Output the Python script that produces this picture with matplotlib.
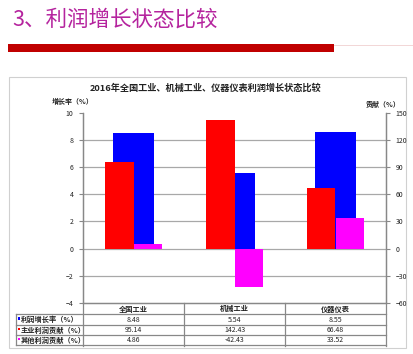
import matplotlib
matplotlib.use("Agg")
import matplotlib.pyplot as plt
from matplotlib.patches import Rectangle

plt.rcParams['font.family'] = ['Noto Sans CJK SC', 'DejaVu Sans']

categories = ['全国工业', '机械工业', '仪器仪表']
growth = [8.48, 5.54, 8.55]
main_contrib = [95.14, 142.43, 66.48]
other_contrib = [4.86, -42.43, 33.52]
row_labels = ['利润增长率（%）', '主业利润贡献（%）', '其他利润贡献（%）']
row_fmt = [[f"{v:.2f}" for v in growth],
           [f"{v:.2f}" for v in main_contrib],
           [f"{v:.2f}" for v in other_contrib]]
left_ticks = [-4, -2, 0, 2, 4, 6, 8, 10]
right_ticks = [-60, -30, 0, 30, 60, 90, 120, 150]

W, H = 413, 354
fig = plt.figure(figsize=(W / 100, H / 100), dpi=100)
fig.patch.set_facecolor('white')

# decoration overlay in pixel coords
deco = fig.add_axes([0, 0, 1, 1])
deco.set_xlim(0, W)
deco.set_ylim(H, 0)
deco.axis('off')
deco.set_zorder(0)

deco.text(12, 20, '3、利润增长状态比较', fontsize=15.5, color='#B5249E',
          va='center', ha='left')
deco.add_patch(Rectangle((8, 44), 326, 8, color='#C00000', lw=0))
deco.plot([334, 413], [44.5, 44.5], color='#F0D0D0', lw=0.6)
deco.add_patch(Rectangle((9, 77), 397, 271, fill=False, ec='#D0D0D0', lw=0.8))

deco.text(206, 88.5, '2016年全国工业、机械工业、仪器仪表利润增长状态比较',
          fontsize=6.6, ha='center', va='center', color='#222222', fontweight='bold')
deco.text(52, 101.5, '增长率（%）', fontsize=5, ha='left', va='center', color='#222222', fontweight='bold')
deco.text(400, 104, '贡献（%）', fontsize=5, ha='right', va='center', color='#222222', fontweight='bold')

# main plot
x0, x1 = 83, 386
ytop, ybot = 112.7, 303
ax = fig.add_axes([x0 / W, (H - ybot) / H, (x1 - x0) / W, (ybot - ytop) / H])
ax.set_zorder(2)
ax.patch.set_alpha(0)
ax.set_xlim(-0.5, 2.5)
ax.set_ylim(-4, 10)
ax.set_yticks(left_ticks)
ax.set_xticks([])
for t in left_ticks[1:-1]:
    ax.axhline(t, color='#A8A8A8', lw=0.9, zorder=0)
xs = list(range(len(categories)))
ax.bar(xs, growth, width=0.4, color='#0000FF', zorder=2)
for s in ['top']:
    ax.spines[s].set_visible(False)
for s in ['left', 'bottom', 'right']:
    ax.spines[s].set_color('#888888')
    ax.spines[s].set_linewidth(0.9)
ax.tick_params(axis='y', direction='out', length=3, width=0.8, color='#888888',
               labelsize=5, labelcolor='#222222', pad=4)

ax2 = ax.twinx()
ax2.set_zorder(3)
ax2.patch.set_alpha(0)
ax2.set_ylim(-60, 150)
ax2.set_yticks(right_ticks)
bw = 0.285
ax2.bar([x - bw / 2 for x in xs], main_contrib, width=bw, color='#FF0000', zorder=3)
ax2.bar([x + bw / 2 for x in xs], other_contrib, width=bw, color='#FF00FF', zorder=3)
ax2.spines['top'].set_visible(False)
for s in ['left', 'bottom', 'right']:
    ax2.spines[s].set_color('#888888')
    ax2.spines[s].set_linewidth(0.9)
ax2.tick_params(axis='y', direction='out', length=3, width=0.8, color='#888888',
                labelsize=5, labelcolor='#222222', pad=4)

# data table
col_edges = [83, 184, 285, 386]
lab_left = 15.7
row_lines = [314.3, 324.7, 334.7, 345]
row_y = [319.5, 330, 340]
lc = '#888888'
for xe in col_edges:
    deco.plot([xe, xe], [303, 346], color=lc, lw=0.9)
deco.plot([lab_left, lab_left], [314.3, 345], color=lc, lw=0.9)
for yl in row_lines:
    deco.plot([lab_left, 386], [yl, yl], color=lc, lw=0.9)
for i, c in enumerate(categories):
    cx = (col_edges[i] + col_edges[i + 1]) / 2
    deco.text(cx, 309, c, fontsize=5.2, ha='center', va='center', color='#222222', fontweight='bold')
key_colors = ['#0000FF', '#FF0000', '#FF00FF']
for r, lab in enumerate(row_labels):
    deco.add_patch(Rectangle((17.5, row_y[r] - 2.5), 2.5, 2.5, color=key_colors[r], lw=0))
    deco.text(21, row_y[r], lab, fontsize=5.2, ha='left', va='center', color='#222222', fontweight='bold')
    for i in range(len(categories)):
        cx = (col_edges[i] + col_edges[i + 1]) / 2
        deco.text(cx, row_y[r], row_fmt[r][i], fontsize=5, ha='center', va='center', color='#222222')

fig.savefig('out.png', dpi=100, facecolor='white')
